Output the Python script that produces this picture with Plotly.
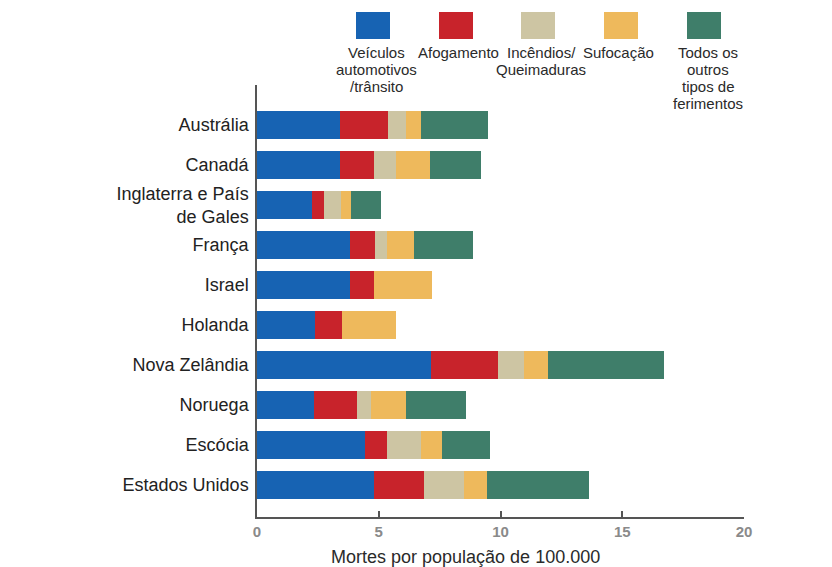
import plotly.graph_objects as go

countries = ["Austrália", "Canadá", "Inglaterra e País<br>de Gales", "França", "Israel",
             "Holanda", "Nova Zelândia", "Noruega", "Escócia", "Estados Unidos"]

veiculos   = [3.4, 3.4, 2.25, 3.8, 3.8, 2.4, 7.15, 2.35, 4.45, 4.8]
afogamento = [2.0, 1.4, 0.5, 1.05, 1.0, 1.1, 2.75, 1.75, 0.9, 2.05]
incendios  = [0.7, 0.9, 0.7, 0.5, 0.0, 0.0, 1.05, 0.6, 1.4, 1.65]
sufocacao  = [0.65, 1.4, 0.4, 1.1, 2.4, 2.2, 1.0, 1.4, 0.85, 0.95]
outros     = [2.75, 2.1, 1.25, 2.4, 0.0, 0.0, 4.75, 2.5, 1.95, 4.2]

series_names = ["Veículos<br>automotivos<br>/trânsito", "Afogamento", "Incêndios/<br>Queimaduras",
                "Sufocação", "Todos os<br>outros<br>tipos de<br>ferimentos"]
series_values = [veiculos, afogamento, incendios, sufocacao, outros]
colors = ["#1763b3", "#c8232b", "#cdc5a3", "#eeb95c", "#3f7e6a"]

x_ticks = [0, 5, 10, 15, 20]
x_title = "Mortes por população de 100.000"

FONT = "Liberation Sans, Arial, Helvetica, sans-serif"

fig = go.Figure()
for name, vals, col in zip(series_names, series_values, colors):
    fig.add_trace(go.Bar(
        y=countries, x=vals, orientation="h", name=name,
        marker=dict(color=col, line=dict(width=0)),
        showlegend=False,
    ))

# Legend: swatches above with labels below
L, R, T, B = 257, 88, 85, 50
W, H = 832 - L - R, 567 - T - B
centers_px = [373, 456, 538, 621, 704]
label_cx = [376, 458, 541, 618, 708]
for cx, lx, name, col in zip(centers_px, label_cx, series_names, colors):
    x0 = (cx - 17 - L) / W
    x1 = (cx + 17 - L) / W
    y0 = (567 - B - 39) / H
    y1 = (567 - B - 12) / H
    fig.add_shape(type="rect", xref="paper", yref="paper", x0=x0, x1=x1, y0=y0, y1=y1,
                  fillcolor=col, line=dict(width=0))
    for i, line in enumerate(name.split("<br>")):
        py = 53 + i * 16.7
        fig.add_annotation(text=line, xref="paper", yref="paper",
                           x=(lx - L) / W, y=(567 - B - py) / H,
                           xanchor="center", yanchor="middle", showarrow=False,
                           font=dict(size=15, color="#2a2a2a", family=FONT))

fig.add_annotation(text=x_title, xref="paper", yref="paper",
                   x=(465 - L) / W, y=(567 - B - 557) / H,
                   xanchor="center", yanchor="middle", showarrow=False,
                   font=dict(size=18, color="#2a2a2a", family=FONT))

fig.update_layout(
    barmode="stack",
    bargap=0.31,
    width=832, height=567,
    margin=dict(l=L, r=R, t=T, b=B, pad=0),
    plot_bgcolor="white", paper_bgcolor="white",
    font=dict(family=FONT),
    xaxis=dict(range=[0, 20], tickvals=x_ticks, ticktext=[str(t) for t in x_ticks],
               showgrid=False, zeroline=False, showline=True, linecolor="#555", linewidth=1.5,
               ticks="inside", ticklen=6, tickcolor="#555", tickwidth=1.5,
               tickfont=dict(size=15, color="#8a8a8a", family="Liberation Sans, Arial", weight="bold"),
               fixedrange=True),
    yaxis=dict(categoryorder="array", categoryarray=countries, type="category",
               range=[9.8, -1.0], showgrid=False, zeroline=False,
               showline=True, linecolor="#555", linewidth=1.5, ticks="",
               ticklabelstandoff=3,
               tickfont=dict(size=18, color="#222", family=FONT), fixedrange=True),
)

fig.write_html("out.html")
